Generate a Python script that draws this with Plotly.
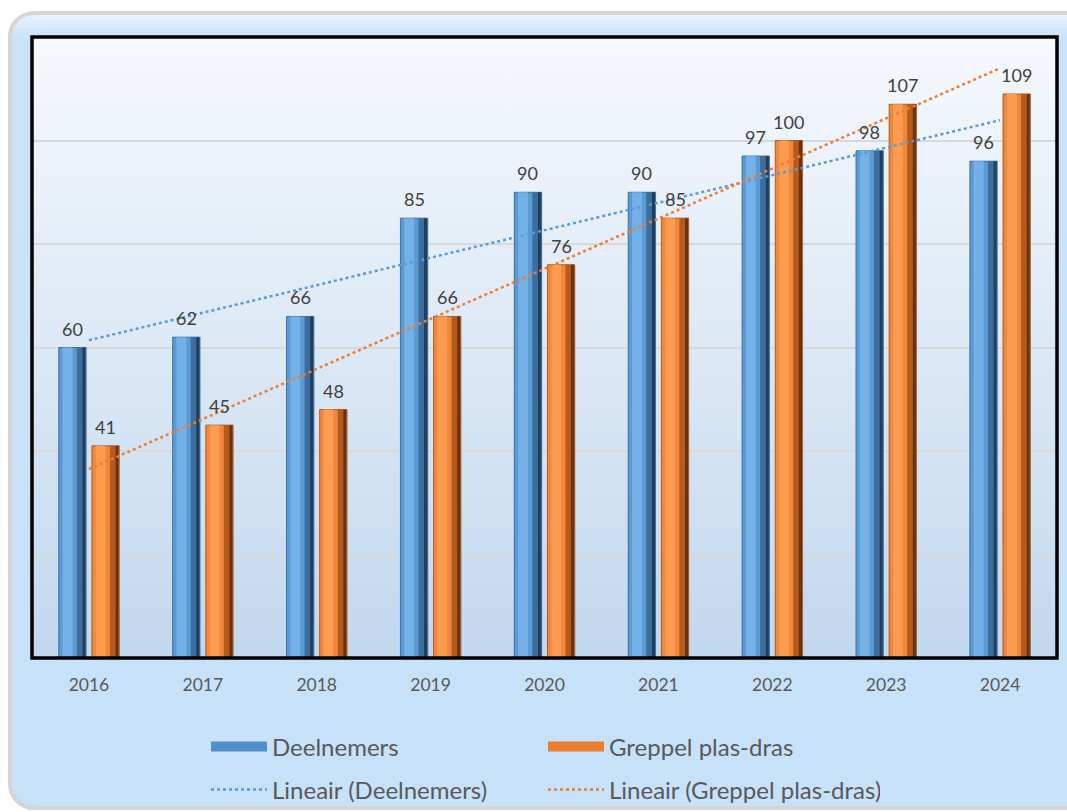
import base64
import numpy as np
import plotly.graph_objects as go

years = ["2016", "2017", "2018", "2019", "2020", "2021", "2022", "2023", "2024"]
deelnemers = [60, 62, 66, 85, 90, 90, 97, 98, 96]
greppel = [41, 45, 48, 66, 76, 85, 100, 107, 109]
series_names = ["Deelnemers", "Greppel plas-dras"]
trend_names = ["Lineair (Deelnemers)", "Lineair (Greppel plas-dras)"]
y_max = 120
y_step = 20

FW, FH = 1067, 812
L, R, T, B = 32, 1057, 37, 658
PW, PH = R - L, B - T

# linear trend (least squares) derived from the data
xi = np.arange(1, len(years) + 1)
def trend(vals):
    a, b = np.polyfit(xi, vals, 1)
    return [float(v) for v in (a * xi + b)]

trend_d = trend(deelnemers)
trend_g = trend(greppel)

blue = dict(base="#5b9bd5", hi="#74b1e8", dk="#3c6d9c", dd="#203f5e", line="#2e5a86")
orange = dict(base="#f0873a", hi="#fd9c50", dk="#b65a1b", dd="#6a3210", line="#9a4a14")

bw = 0.24
off_d = -0.265
off_g = 0.026

fig = go.Figure()
annotations = []

def add_bars(vals, off, c, name):
    fig.add_trace(go.Bar(
        x=years, y=vals, name=name, showlegend=False,
        offset=off, width=bw,
        marker=dict(color=c["base"], line=dict(color=c["line"], width=0.8)),
        hoverinfo="skip", textposition="none",
    ))
    # shading strips (same values)
    for o, w, col in [(0.14, 0.36, c["hi"]), (0.66, 0.2, c["dk"]), (0.86, 0.12, c["dd"])]:
        fig.add_trace(go.Bar(
            x=years, y=vals, showlegend=False, offset=off + bw * o, width=bw * w,
            marker=dict(color=col, line=dict(width=0)), hoverinfo="skip",
            textposition="none",
        ))
    for i, v in enumerate(vals):
        annotations.append(dict(
            x=i + off + bw / 2, y=v, xref="x", yref="y", text=str(v), showarrow=False,
            yshift=19, yanchor="middle", xanchor="center",
            font=dict(family="Lato", size=18, color="#404040"),
        ))

add_bars(deelnemers, off_d, blue, series_names[0])
add_bars(greppel, off_g, orange, series_names[1])

fig.add_trace(go.Scatter(
    x=years, y=trend_d, mode="lines", name=trend_names[0], legend="legend2",
    line=dict(color="#5b9bd5", width=2.5, dash="dot"), hoverinfo="skip",
))
fig.add_trace(go.Scatter(
    x=years, y=trend_g, mode="lines", name=trend_names[1], legend="legend2",
    line=dict(color="#ed7d31", width=2.5, dash="dot"), hoverinfo="skip",
))
# legend swatches for bar series
fig.add_trace(go.Scatter(
    x=[years[0]], y=[None], mode="lines", name=series_names[0], legend="legend",
    line=dict(color="#4f8fca", width=13), hoverinfo="skip",
))
fig.add_trace(go.Scatter(
    x=[years[0]], y=[None], mode="lines", name=series_names[1], legend="legend",
    line=dict(color="#ec7e30", width=13), hoverinfo="skip",
))

svg = f'''<svg xmlns="http://www.w3.org/2000/svg" width="{FW}" height="{FH}" viewBox="0 0 {FW} {FH}">
<defs>
<linearGradient id="fr" x1="0" y1="0" x2="0" y2="1">
<stop offset="0" stop-color="#e9f4fd"/><stop offset="0.03" stop-color="#cae3f9"/><stop offset="1" stop-color="#c7e1f8"/>
</linearGradient>
<linearGradient id="pa" x1="0" y1="0" x2="0" y2="1">
<stop offset="0" stop-color="#f6f9fd"/><stop offset="1" stop-color="#c2d8ee"/>
</linearGradient>
</defs>
<rect x="0" y="0" width="{FW}" height="{FH}" fill="#ffffff"/>
<rect x="10" y="13" width="{FW + 40}" height="{FH - 17}" rx="24" ry="24" fill="url(#fr)" stroke="#d5d5d5" stroke-width="4"/>
<rect x="{L}" y="{T}" width="{PW}" height="{PH}" fill="url(#pa)"/>
</svg>'''
src = "data:image/svg+xml;base64," + base64.b64encode(svg.encode()).decode()

fig.add_layout_image(dict(
    source=src, xref="paper", yref="paper",
    x=-L / PW, y=1 + T / PH, sizex=FW / PW, sizey=FH / PH,
    xanchor="left", yanchor="top", sizing="stretch", layer="below",
))

fig.add_shape(type="rect", xref="paper", yref="paper", x0=0, x1=1, y0=0, y1=1,
              line=dict(color="#000000", width=3.5), layer="above")

leg_common = dict(
    orientation="h", entrywidth=266, entrywidthmode="pixels", itemwidth=56,
    font=dict(family="Lato", size=24, color="#595959"), bgcolor="rgba(0,0,0,0)",
    xanchor="left", yanchor="middle", traceorder="normal", itemclick=False,
)
fig.update_layout(
    width=FW, height=FH,
    margin=dict(l=L, r=FW - R, t=T, b=FH - B, autoexpand=False),
    paper_bgcolor="rgba(0,0,0,0)", plot_bgcolor="rgba(0,0,0,0)",
    barmode="overlay",
    showlegend=True,
    annotations=annotations,
    legend=dict(x=(206 - L) / PW, y=(B - 747) / PH, **leg_common),
    legend2=dict(x=(206 - L) / PW, y=(B - 790) / PH, **leg_common),
    xaxis=dict(type="category", categoryorder="array", categoryarray=years,
               range=[-0.5, len(years) - 0.5], showgrid=False,
               showline=False, ticks="", ticklabelstandoff=14,
               tickfont=dict(family="Lato", size=17.5, color="#595959")),
    yaxis=dict(range=[0, y_max], dtick=y_step, showticklabels=False, showgrid=True,
               gridcolor="#d9d9d9", gridwidth=1.5, zeroline=False, showline=False),
)

fig.write_html("out.html", config={"displayModeBar": False},
               post_script="document.body.style.margin='0';document.body.style.overflow='hidden';")
